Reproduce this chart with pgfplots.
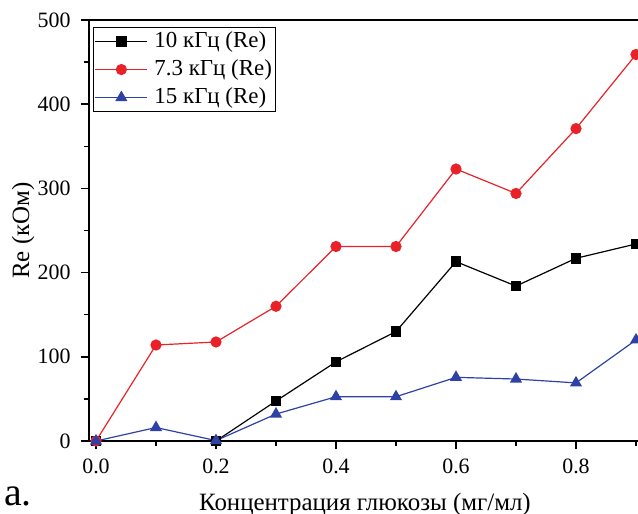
\documentclass[border=0pt]{standalone}
\usepackage{fontspec}
\setmainfont{Liberation Serif}
\usepackage{pgfplots}
\pgfplotsset{compat=1.18}
\definecolor{myred}{RGB}{232,34,40}
\definecolor{myblue}{RGB}{46,66,165}
\begin{document}
\begin{tikzpicture}
\useasboundingbox (0,0) rectangle (638bp,514bp);
\clip (0,0) rectangle (638bp,514bp);
\begin{axis}[
  at={(89bp,73bp)}, anchor=south west,
  scale only axis, width=553bp, height=421bp,
  xmin=-0.011667, xmax=0.91, ymin=0, ymax=500,
  xtick={0,0.2,0.4,0.6,0.8}, minor xtick={0.1,0.3,0.5,0.7,0.9},
  ytick={0,100,200,300,400,500}, minor ytick={50,150,250,350,450},
  xticklabel style={/pgf/number format/fixed, /pgf/number format/fixed zerofill, /pgf/number format/precision=1, yshift=-6bp},
  yticklabel style={xshift=-7bp},
  /pgf/number format/assume math mode=true,
  tick label style={font=\fontsize{22}{26}\selectfont},
  xtick pos=bottom, ytick pos=left,
  tick align=outside,
  major tick length=8bp, minor tick length=5bp,
  every tick/.style={black, line width=1.5bp},
  axis line style={line width=1.8bp},
  xlabel={Концентрация глюкозы (мг/мл)},
  ylabel={Re (кОм)},
  label style={font=\fontsize{25}{29}\selectfont},
  xlabel style={at={(axis description cs:0.499,-0.166)}, anchor=base},
  ylabel style={at={(axis description cs:-0.119,0.5)}, anchor=center},
  legend style={at={(axis description cs:0.007,0.983)}, anchor=north west, draw=black, line width=0.8bp, font=\fontsize{23}{27}\selectfont, inner sep=1.5bp, row sep=3bp, nodes={inner sep=1.5bp, text height=17bp, text depth=5bp}, /tikz/every odd column/.append style={column sep=5bp}},
  legend cell align=left,
  legend image code/.code={\draw[mark repeat=2,mark phase=2,#1] plot coordinates {(0bp,0bp) (26bp,0bp) (52bp,0bp)};},
  every axis plot/.append style={line width=1.2bp},
  clip=false,
]
\addplot[black, mark=square*, mark size=4.7bp, mark options={solid}] coordinates {
  (0.0,0) (0.2,0) (0.3,47.5) (0.4,94) (0.5,130) (0.6,213) (0.7,184) (0.8,217) (0.9,234)
};
\addlegendentry{10 кГц (Re)}
\addplot[myred, mark=*, mark size=5bp] coordinates {
  (0.0,0) (0.1,114) (0.2,117.6) (0.3,160) (0.4,231) (0.5,231) (0.6,323) (0.7,294) (0.8,371) (0.9,459)
};
\addlegendentry{7.3 кГц (Re)}
\addplot[myblue, mark=triangle*, mark size=5.8bp] coordinates {
  (0.0,0) (0.1,16) (0.2,0.5) (0.3,32) (0.4,52.6) (0.5,52.6) (0.6,75.6) (0.7,73.6) (0.8,69) (0.9,120)
};
\addlegendentry{15 кГц (Re)}
\end{axis}
\node[anchor=base west, font=\fontsize{40}{44}\selectfont, inner sep=0pt] at (4bp,9bp) {a.};
\end{tikzpicture}
\end{document}
